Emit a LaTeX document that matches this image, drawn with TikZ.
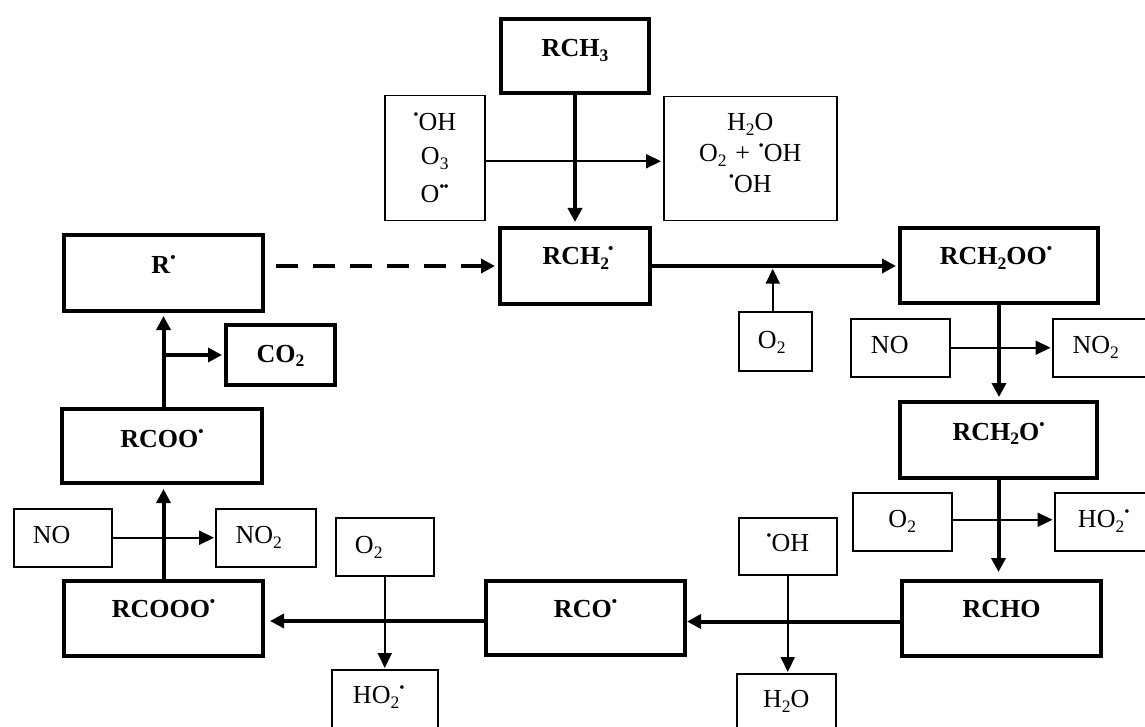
\documentclass[tikz,border=0pt]{standalone}
\usepackage{fontspec}
\setmainfont{Liberation Serif}
\usetikzlibrary{arrows.meta}
\newcommand{\radot}{\raisebox{11pt}{\fontsize{15}{15}\selectfont\textbullet}}
\newcommand{\chsub}[1]{\raisebox{-4.5pt}{\fontsize{17.5}{17.5}\selectfont #1}}
\begin{document}
\begin{tikzpicture}[x=1pt,y=-1pt,
  thickbox/.style={draw, line width=4pt, inner sep=0pt, align=center, anchor=north west,
    font=\fontsize{26}{31}\selectfont\bfseries},
  thinbox/.style={draw, line width=1.5pt, inner sep=0pt, align=center, anchor=north west,
    font=\fontsize{26}{31}\selectfont},
  bigarrow/.style={line width=4pt, -{Triangle[length=14pt,width=14pt]}},
  smallarrow/.style={line width=2pt, -{Triangle[length=15pt,width=14pt]}},
  dasharrow/.style={bigarrow, dash pattern=on 22pt off 15pt}
]
\useasboundingbox (0,0) rectangle (1145,727);
\fill[white] (0,0) rectangle (1145,727);
\clip (0,0) rectangle (1145,727);

% thick boxes
\node[thickbox, text width=148pt, text height=38pt, text depth=36pt] (rch3) at (499,17) {RCH\chsub{3}};
\node[thickbox, text width=199pt, text height=38pt, text depth=38pt] (rdot) at (62,233) {R\radot};
\node[thickbox, text width=150pt, text height=37pt, text depth=39pt] (rch2) at (498,226) {\hspace*{6pt}RCH\chsub{2}\kern-1pt\radot};
\node[thickbox, text width=198pt, text height=37pt, text depth=38pt] (rch2oo) at (898,226) {\hspace*{-6pt}RCH\chsub{2}OO\radot};
\node[thickbox, text width=197pt, text height=38pt, text depth=38pt] (rch2o) at (898,400) {RCH\chsub{2}O\radot};
\node[thickbox, text width=109pt, text height=37pt, text depth=23pt] (co2) at (224,323) {CO\chsub{2}};
\node[thickbox, text width=200pt, text height=38pt, text depth=36pt] (rcoo) at (60,407) {RCOO\radot};
\node[thickbox, text width=199pt, text height=36pt, text depth=39pt] (rcooo) at (62,579) {RCOOO\radot};
\node[thickbox, text width=199pt, text height=36pt, text depth=38pt] (rco) at (484,579) {RCO\radot};
\node[thickbox, text width=199pt, text height=36pt, text depth=39pt] (rcho) at (900,579) {RCHO};

% thin boxes
\node[thinbox, text width=100pt, text height=35pt, text depth=90pt, font=\fontsize{26}{34}\selectfont] (topl) at (384,95)
  {\radot OH\\ O\chsub{3}\\[4pt] O\radot\kern-1pt\radot};
\node[thinbox, text width=173pt, text height=34pt, text depth=90pt, font=\fontsize{26}{31}\selectfont] (topr) at (663,96)
  {H\chsub{2}O\\ O\chsub{2} + \radot OH\\ \radot OH};
\node[thinbox, text width=73pt, text height=37pt, text depth=22pt] (o2m) at (738,311) {\hspace*{-7pt}O\chsub{2}};
\node[thinbox, text width=99pt, text height=35pt, text depth=23pt] (nor) at (850,318) {\hspace*{-21pt}NO};
\node[thinbox, text width=98pt, text height=35pt, text depth=23pt] (no2r) at (1052,318) {\hspace*{-12pt}NO\chsub{2}};
\node[thinbox, text width=99pt, text height=35pt, text depth=23pt] (o2r) at (852,492) {O\chsub{2}};
\node[thinbox, text width=98pt, text height=35pt, text depth=23pt] (ho2r) at (1054,492) {HO\chsub{2}\radot};
\node[thinbox, text width=98pt, text height=34pt, text depth=23pt] (ohb) at (738,517) {\radot OH};
\node[thinbox, text width=99pt, text height=34pt, text depth=24pt] (h2ob) at (736,673) {H\chsub{2}O};
\node[thinbox, text width=98pt, text height=35pt, text depth=23pt] (nol) at (13,508) {\hspace*{-22pt}NO};
\node[thinbox, text width=100pt, text height=35pt, text depth=23pt] (no2l) at (215,508) {\hspace*{-14pt}NO\chsub{2}};
\node[thinbox, text width=98pt, text height=36pt, text depth=22pt] (o2l) at (335,517) {\hspace*{-32pt}O\chsub{2}};
\node[thinbox, text width=106pt, text height=34pt, text depth=24pt] (ho2l) at (331,669) {\hspace*{-12pt}HO\chsub{2}\radot};

% thin arrows
\draw[smallarrow, shorten >=2pt] ([yshift=-3pt]topl.east) -- ([yshift=-3pt]topl.east -| topr.west);
\draw[smallarrow, shorten >=2.7pt] ([xshift=-2.5pt]o2m.north) -- ([xshift=-2.5pt]o2m.north |- rch2.east);
\draw[smallarrow, shorten >=1.5pt] (nor.east) -- (nor.east -| no2r.west);
\draw[smallarrow, shorten >=1.5pt] ([yshift=2pt]o2r.east) -- ([yshift=2pt]o2r.east -| ho2r.west);
\draw[smallarrow, shorten >=1pt] (ohb.south) -- (ohb.south |- h2ob.north);
\draw[smallarrow, shorten >=1pt] (nol.east) -- (nol.east -| no2l.west);
\draw[smallarrow, shorten >=1pt] (o2l.south) -- (o2l.south |- ho2l.north);

% thick arrows
\draw[bigarrow, shorten >=4pt] (rch3) -- (rch2);
\draw[bigarrow, shorten >=2pt] (rch2.east) -- (rch2.east -| rch2oo.west);
\draw[bigarrow, shorten >=3pt] (rch2oo.south) -- (rch2oo.south |- rch2o.north);
\draw[bigarrow, shorten >=7pt] (rch2o.south) -- (rch2o.south |- rcho.north);
\draw[bigarrow] ([yshift=-3pt]rcho.west) -- ([yshift=-3pt]rcho.west -| rco.east);
\draw[bigarrow, shorten >=5pt] ([yshift=-3pt]rco.west) -- ([yshift=-3pt]rco.west -| rcooo.east);
\draw[bigarrow, shorten >=4pt] (rcooo.north) -- (rcooo.north |- rcoo.south);
\draw[bigarrow, shorten >=3pt] (rdot.south |- rcoo.north) -- (rdot.south);
\draw[bigarrow, shorten >=2pt] ([xshift=2pt]rdot.south |- co2.west) -- (co2.west);
\draw[dasharrow, shorten <=11pt, shorten >=3pt] (rdot.east |- rch2.west) -- (rch2.west);
\end{tikzpicture}
\end{document}
